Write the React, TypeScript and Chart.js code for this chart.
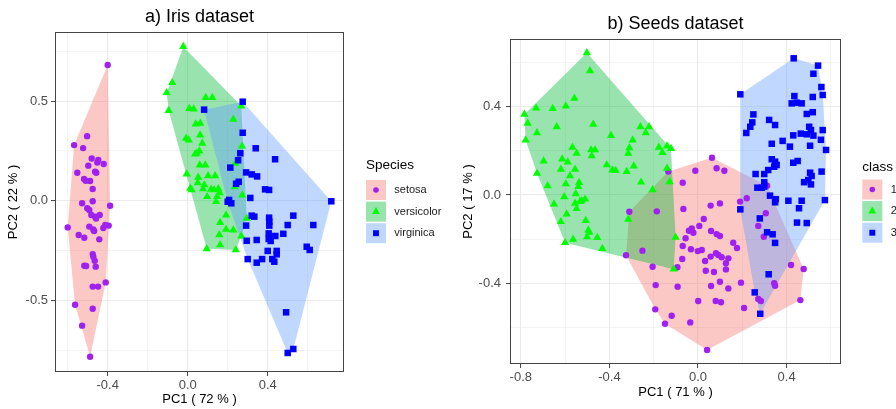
import React, { useEffect, useRef } from 'react';
import { Chart, registerables } from 'chart.js';
Chart.register(...registerables);

type P = [number, number];

// ---------------- Iris data (PC1, PC2) ----------------
const irisSetosa: P[] = [
  [-0.400, 0.681], [-0.503, 0.324], [-0.568, 0.279], [-0.523, 0.264], [-0.480, 0.212], [-0.447, 0.204],
  [-0.452, 0.192], [-0.497, 0.176], [-0.420, 0.184], [-0.552, 0.140], [-0.463, 0.145], [-0.457, 0.140],
  [-0.518, 0.109], [-0.510, 0.100], [-0.488, 0.099], [-0.475, 0.059], [-0.528, -0.013], [-0.475, -0.003],
  [-0.388, -0.025], [-0.502, -0.038], [-0.492, -0.047], [-0.440, -0.072], [-0.463, -0.080], [-0.458, -0.089],
  [-0.482, -0.072], [-0.600, -0.134], [-0.492, -0.130], [-0.472, -0.144], [-0.468, -0.152], [-0.412, -0.122],
  [-0.395, -0.125], [-0.422, -0.137], [-0.545, -0.172], [-0.517, -0.186], [-0.442, -0.194], [-0.475, -0.268],
  [-0.472, -0.281], [-0.465, -0.301], [-0.517, -0.326], [-0.508, -0.328], [-0.460, -0.331], [-0.410, -0.410],
  [-0.475, -0.431], [-0.448, -0.431], [-0.563, -0.522], [-0.475, -0.542], [-0.528, -0.627], [-0.488, -0.783],
];
const irisVersicolor: P[] = [
  [-0.022, 0.773], [-0.077, 0.592], [-0.105, 0.542], [-0.095, 0.452], [0.090, 0.517], [0.123, 0.517],
  [0.008, 0.462], [0.030, 0.460], [0.228, 0.408], [0.040, 0.385], [0.063, 0.388], [-0.008, 0.313],
  [0.005, 0.304], [0.062, 0.329], [0.073, 0.288], [0.268, 0.475], [0.045, 0.237], [0.058, 0.249],
  [0.037, 0.234], [0.060, 0.179], [0.088, 0.179], [0.272, 0.274], [-0.005, 0.134], [0.052, 0.117],
  [0.102, 0.125], [0.137, 0.125], [0.050, 0.090], [0.013, 0.062], [0.020, 0.054], [0.077, 0.060],
  [0.132, 0.054], [0.153, 0.060], [0.235, 0.069], [0.160, 0.040], [0.097, 0.020], [0.147, 0.020],
  [0.142, -0.005], [0.273, 0.028], [0.237, 0.187], [0.192, -0.072], [0.295, -0.089], [0.162, -0.110],
  [0.192, -0.144], [0.228, -0.147], [0.158, -0.171], [0.268, -0.177], [0.095, -0.241], [0.162, -0.222],
  [0.240, -0.247], [0.083, 0.079], [0.117, 0.057],
];
const irisVirginica: P[] = [
  [0.275, 0.497], [0.082, 0.457], [0.275, 0.341], [0.340, 0.263], [0.263, 0.238], [0.252, 0.203],
  [0.437, 0.208], [0.213, 0.166], [0.292, 0.142], [0.320, 0.132], [0.347, 0.122], [0.255, 0.095],
  [0.242, 0.085], [0.387, 0.057], [0.407, 0.054], [0.313, 0.014], [0.718, -0.003], [0.207, 0.004],
  [0.218, -0.013], [0.200, -0.005], [0.320, -0.075], [0.333, -0.080], [0.528, -0.075], [0.407, -0.085],
  [0.408, -0.105], [0.408, -0.125], [0.292, -0.125], [0.500, -0.122], [0.628, -0.122], [0.405, -0.164],
  [0.438, -0.177], [0.478, -0.166], [0.295, -0.201], [0.345, -0.197], [0.405, -0.192], [0.415, -0.202],
  [0.595, -0.231], [0.610, -0.247], [0.400, -0.252], [0.445, -0.252], [0.445, -0.269], [0.300, -0.293],
  [0.345, -0.311], [0.372, -0.293], [0.423, -0.293], [0.433, -0.306], [0.492, -0.560], [0.528, -0.744],
  [0.500, -0.764],
];

// ---------------- Seeds data (PC1, PC2) ----------------
const seedsClass1: P[] = [
  [0.063, 0.169], [0.084, 0.121], [0.119, 0.110], [-0.012, 0.110], [-0.069, 0.056], [-0.134, 0.106],
  [0.220, -0.015], [0.190, -0.030], [0.099, -0.038], [0.057, -0.048], [-0.066, -0.063], [-0.310, -0.076],
  [-0.186, -0.074], [0.306, -0.083], [0.026, -0.109], [0.006, -0.140], [-0.028, -0.151], [-0.041, -0.162],
  [-0.021, -0.171], [0.272, -0.140], [0.059, -0.163], [0.084, -0.177], [0.099, -0.186], [-0.056, -0.196],
  [0.297, -0.189], [0.159, -0.216], [0.176, -0.240], [-0.069, -0.231], [-0.032, -0.246], [-0.001, -0.254],
  [0.017, -0.249], [-0.251, -0.252], [-0.325, -0.273], [0.081, -0.264], [0.092, -0.272], [0.107, -0.282],
  [0.057, -0.279], [0.032, -0.299], [0.137, -0.287], [0.126, -0.309], [-0.071, -0.290], [-0.093, -0.327],
  [-0.205, -0.325], [0.035, -0.343], [0.072, -0.349], [0.126, -0.337], [0.099, -0.393], [0.194, -0.397],
  [0.059, -0.412], [0.137, -0.423], [-0.092, -0.415], [-0.191, -0.408], [0.420, -0.317], [0.477, -0.335],
  [0.344, -0.400], [0.348, -0.411], [0.272, -0.471], [0.284, -0.480], [0.462, -0.476], [0.001, -0.480],
  [0.080, -0.480], [0.104, -0.486], [0.208, -0.512], [-0.193, -0.518], [-0.119, -0.547], [-0.149, -0.583],
  [-0.035, -0.577], [0.041, -0.702], [0.312, 0.042],
];
const seedsClass2: P[] = [
  [-0.502, 0.644], [-0.488, 0.562], [-0.558, 0.438], [-0.597, 0.403], [-0.656, 0.391], [-0.731, 0.393],
  [-0.784, 0.365], [-0.769, 0.325], [-0.727, 0.282], [-0.638, 0.309], [-0.473, 0.320], [-0.778, 0.249],
  [-0.393, 0.269], [-0.260, 0.309], [-0.221, 0.309], [-0.236, 0.282], [-0.295, 0.249], [-0.310, 0.214],
  [-0.315, 0.189], [-0.177, 0.216], [-0.140, 0.222], [-0.122, 0.210], [-0.161, 0.192], [-0.567, 0.216],
  [-0.548, 0.189], [-0.483, 0.204], [-0.465, 0.204], [-0.480, 0.177], [-0.697, 0.154], [-0.613, 0.163],
  [-0.588, 0.149], [-0.412, 0.136], [-0.619, 0.116], [-0.555, 0.116], [-0.387, 0.113], [-0.372, 0.110],
  [-0.322, 0.106], [-0.290, 0.131], [-0.140, 0.121], [-0.727, 0.098], [-0.578, 0.087], [-0.537, 0.056],
  [-0.540, 0.038], [-0.597, 0.050], [-0.679, 0.041], [-0.257, 0.058], [-0.128, 0.060], [-0.205, 0.023],
  [-0.552, 0.005], [-0.604, -0.008], [-0.525, -0.026], [-0.510, -0.019], [-0.533, -0.030], [-0.555, -0.038],
  [-0.650, -0.041], [-0.548, -0.062], [-0.593, -0.086], [-0.315, -0.110], [-0.619, -0.121], [-0.507, -0.116],
  [-0.495, -0.159], [-0.491, -0.169], [-0.501, -0.189], [-0.455, -0.193], [-0.564, -0.201], [-0.600, -0.216],
  [-0.432, -0.243], [-0.101, -0.192], [-0.110, -0.336],
];
const seedsClass3: P[] = [
  [0.432, 0.619], [0.542, 0.586], [0.521, 0.549], [0.191, 0.456], [0.557, 0.489], [0.563, 0.453],
  [0.435, 0.448], [0.518, 0.444], [0.423, 0.415], [0.446, 0.418], [0.468, 0.415], [0.250, 0.365],
  [0.491, 0.367], [0.518, 0.375], [0.245, 0.329], [0.236, 0.309], [0.321, 0.340], [0.348, 0.317],
  [0.218, 0.281], [0.502, 0.309], [0.510, 0.294], [0.563, 0.294], [0.430, 0.270], [0.464, 0.278],
  [0.491, 0.275], [0.521, 0.269], [0.555, 0.250], [0.333, 0.232], [0.382, 0.245], [0.415, 0.219],
  [0.506, 0.223], [0.578, 0.204], [0.333, 0.162], [0.348, 0.151], [0.355, 0.136], [0.344, 0.128],
  [0.430, 0.146], [0.450, 0.154], [0.558, 0.106], [0.317, 0.113], [0.299, 0.095], [0.260, 0.095],
  [0.506, 0.101], [0.513, 0.086], [0.479, 0.058], [0.498, 0.068], [0.510, 0.048], [0.299, 0.058],
  [0.268, 0.033], [0.288, 0.033], [0.299, 0.038], [0.325, -0.003], [0.351, -0.019], [0.348, -0.033],
  [0.408, -0.026], [0.468, -0.026], [0.573, -0.023], [0.191, -0.065], [0.456, -0.060], [0.279, -0.106],
  [0.447, -0.125], [0.491, -0.127], [0.312, -0.169], [0.337, -0.178], [0.348, -0.217], [0.319, -0.359],
  [0.256, -0.441], [0.281, -0.538],
];

// ---------------- Labels & ticks ----------------
const irisGroups = ['setosa', 'versicolor', 'virginica'];
const seedsGroups = ['1', '2', '3'];
const irisXMajor = [-0.4, 0, 0.4];
const irisXMinor = [-0.6, -0.2, 0.2, 0.6];
const irisYMajor = [-0.5, 0, 0.5];
const irisYMinor = [-0.75, -0.25, 0.25, 0.75];
const seedsXMajor = [-0.8, -0.4, 0, 0.4];
const seedsXMinor = [-0.6, -0.2, 0.2, 0.6];
const seedsYMajor = [-0.4, 0, 0.4];
const seedsYMinor = [-0.6, -0.2, 0.2, 0.6];

// ---------------- Styles ----------------
const FONT = '"Liberation Sans", Arial, Helvetica, sans-serif';
const POINT_COLORS = ['#A020F0', '#00FF00', '#0000FF'];
const HULL_COLORS = ['rgba(248,118,109,0.4)', 'rgba(0,186,56,0.4)', 'rgba(97,156,255,0.4)'];
const SHAPES = ['circle', 'triangle', 'rect'];
const RADII = [3.2, 4.8, 4.6];
const W = 448;
const H = 409;

function convexHull(pts: P[]): P[] {
  const p = [...pts].sort((a, b) => a[0] - b[0] || a[1] - b[1]);
  const cross = (o: P, a: P, b: P) => (a[0] - o[0]) * (b[1] - o[1]) - (a[1] - o[1]) * (b[0] - o[0]);
  const lower: P[] = [];
  for (const q of p) {
    while (lower.length >= 2 && cross(lower[lower.length - 2], lower[lower.length - 1], q) <= 0) lower.pop();
    lower.push(q);
  }
  const upper: P[] = [];
  for (let i = p.length - 1; i >= 0; i--) {
    const q = p[i];
    while (upper.length >= 2 && cross(upper[upper.length - 2], upper[upper.length - 1], q) <= 0) upper.pop();
    upper.push(q);
  }
  upper.pop();
  lower.pop();
  return lower.concat(upper);
}

function drawShape(ctx: CanvasRenderingContext2D, shape: string, x: number, y: number, r: number) {
  ctx.beginPath();
  if (shape === 'circle') {
    ctx.arc(x, y, r, 0, Math.PI * 2);
  } else if (shape === 'triangle') {
    ctx.moveTo(x, y - r);
    ctx.lineTo(x + 0.866 * r, y + 0.5 * r);
    ctx.lineTo(x - 0.866 * r, y + 0.5 * r);
    ctx.closePath();
  } else {
    const s = Math.SQRT1_2 * r;
    ctx.rect(x - s, y - s, 2 * s, 2 * s);
  }
  ctx.fill();
}

interface PanelCfg {
  title: string;
  xTitle: string;
  yTitle: string;
  legendTitle: string;
  labels: string[];
  groups: P[][];
  xMin: number; xMax: number; yMin: number; yMax: number;
  xMajor: number[]; xMinor: number[]; yMajor: number[]; yMinor: number[];
  area: { left: number; right: number; top: number; bottom: number };
  titleBase: number;
  xTickPad: number; yTickPad: number; xTitlePad: number; yTitlePad: number;
  legend: { x: number; titleBase: number; rows: number[]; labelX: number };
}

const irisCfg: PanelCfg = {
  title: 'a) Iris dataset', xTitle: 'PC1 ( 72 % )', yTitle: 'PC2 ( 22 % )', legendTitle: 'Species',
  labels: irisGroups, groups: [irisSetosa, irisVersicolor, irisVirginica],
  xMin: -0.6635, xMax: 0.7815, yMin: -0.8595, yMax: 0.8465,
  xMajor: irisXMajor, xMinor: irisXMinor, yMajor: irisYMajor, yMinor: irisYMinor,
  area: { left: 55, right: 344, top: 32, bottom: 372 },
  titleBase: 21.5, xTickPad: 2, yTickPad: 3, xTitlePad: 1.5, yTitlePad: 6,
  legend: { x: 366, titleBase: 169, rows: [180, 201.6, 223.2], labelX: 394.3 },
};

const seedsCfg: PanelCfg = {
  title: 'b) Seeds dataset', xTitle: 'PC1 ( 71 % )', yTitle: 'PC2 ( 17 % )', legendTitle: 'class',
  labels: seedsGroups, groups: [seedsClass1, seedsClass2, seedsClass3],
  xMin: -0.8488, xMax: 0.6456, yMin: -0.7654, yMax: 0.7065,
  xMajor: seedsXMajor, xMinor: seedsXMinor, yMajor: seedsYMajor, yMinor: seedsYMinor,
  area: { left: 62, right: 393, top: 39, bottom: 364 },
  titleBase: 28.5, xTickPad: 1.5, yTickPad: 5, xTitlePad: 8.7, yTitlePad: 13,
  legend: { x: 414.3, titleBase: 170.5, rows: [179.5, 201.1, 222.7], labelX: 442.7 },
};

const hullPlugin = {
  id: 'hulls',
  beforeDatasetsDraw(chart: any) {
    const { ctx, chartArea, scales } = chart;
    ctx.save();
    ctx.beginPath();
    ctx.rect(chartArea.left, chartArea.top, chartArea.right - chartArea.left, chartArea.bottom - chartArea.top);
    ctx.clip();
    chart.data.datasets.forEach((ds: any, i: number) => {
      const pts: P[] = ds.data.map((d: any) => [d.x, d.y]);
      const h = convexHull(pts);
      ctx.beginPath();
      h.forEach(([x, y], k) => {
        const px = scales.x.getPixelForValue(x);
        const py = scales.y.getPixelForValue(y);
        if (k === 0) ctx.moveTo(px, py);
        else ctx.lineTo(px, py);
      });
      ctx.closePath();
      ctx.fillStyle = HULL_COLORS[i];
      ctx.fill();
    });
    ctx.restore();
  },
};

function makeDecor(cfg: PanelCfg) {
  return {
    id: 'decor',
    afterDraw(chart: any) {
      const { ctx, chartArea } = chart;
      ctx.save();
      // panel border
      ctx.strokeStyle = '#444444';
      ctx.lineWidth = 1;
      ctx.strokeRect(chartArea.left + 0.5, chartArea.top + 0.5, chartArea.right - chartArea.left - 1, chartArea.bottom - chartArea.top - 1);
      // title
      ctx.fillStyle = '#000';
      ctx.font = `18px ${FONT}`;
      ctx.textAlign = 'center';
      ctx.textBaseline = 'alphabetic';
      ctx.fillText(cfg.title, (chartArea.left + chartArea.right) / 2, cfg.titleBase);
      // legend
      const L = cfg.legend;
      ctx.textAlign = 'left';
      ctx.font = `13.5px ${FONT}`;
      ctx.fillText(cfg.legendTitle, L.x, L.titleBase);
      const key = 20;
      cfg.labels.forEach((lab, i) => {
        const y = L.rows[i];
        ctx.fillStyle = '#ffffff';
        ctx.fillRect(L.x, y, key, key);
        ctx.fillStyle = HULL_COLORS[i];
        ctx.fillRect(L.x, y, key, key);
        ctx.fillStyle = POINT_COLORS[i];
        drawShape(ctx, SHAPES[i], L.x + key / 2, y + key / 2, i === 0 ? 2.8 : i === 1 ? 4.6 : 4.2);
        ctx.fillStyle = '#1a1a1a';
        ctx.font = `11px ${FONT}`;
        ctx.textBaseline = 'middle';
        ctx.fillText(lab, L.labelX, y + key / 2);
        ctx.textBaseline = 'alphabetic';
      });
      ctx.restore();
    },
  };
}

function axisOpts(cfg: PanelCfg, axis: 'x' | 'y') {
  const major = axis === 'x' ? cfg.xMajor : cfg.yMajor;
  const minor = axis === 'x' ? cfg.xMinor : cfg.yMinor;
  const all = [...major, ...minor].sort((a, b) => a - b);
  const isMajor = (v: number) => major.includes(v);
  return {
    type: 'linear',
    min: axis === 'x' ? cfg.xMin : cfg.yMin,
    max: axis === 'x' ? cfg.xMax : cfg.yMax,
    afterBuildTicks: (s: any) => {
      s.ticks = all.map((v) => ({ value: v }));
    },
    afterFit: (s: any) => {
      if (axis === 'x') s.height = H - cfg.area.bottom;
      else s.width = cfg.area.left;
    },
    border: { display: false },
    grid: {
      color: '#EBEBEB',
      lineWidth: (c: any) => (c.tick && isMajor(c.tick.value) ? 1.1 : 0.6),
      drawTicks: true,
      tickLength: 4,
      tickWidth: 1,
      tickColor: (c: any) => (c.tick && isMajor(c.tick.value) ? '#444444' : 'rgba(0,0,0,0)'),
    },
    ticks: {
      autoSkip: false,
      maxRotation: 0,
      minRotation: 0,
      padding: axis === 'x' ? cfg.xTickPad : cfg.yTickPad,
      color: '#4D4D4D',
      font: { family: FONT, size: 13 },
      callback: (v: number) => (isMajor(v) ? v.toFixed(1) : ''),
    },
    title: {
      display: true,
      text: axis === 'x' ? cfg.xTitle : cfg.yTitle,
      color: '#000',
      font: { family: FONT, size: 13 },
      padding: axis === 'x' ? { top: 0, bottom: cfg.xTitlePad } : { top: cfg.yTitlePad, bottom: 0 },
    },
  };
}

function Panel({ cfg, left }: { cfg: PanelCfg; left: number }) {
  const ref = useRef<HTMLCanvasElement>(null);
  useEffect(() => {
    const a = cfg.area;
    const chart = new Chart(ref.current as HTMLCanvasElement, {
      type: 'scatter',
      data: {
        datasets: cfg.groups.map((g, i) => ({
          label: cfg.labels[i],
          data: g.map(([x, y]) => ({ x, y })),
          pointStyle: SHAPES[i],
          pointRadius: RADII[i],
          pointHoverRadius: RADII[i],
          pointBackgroundColor: POINT_COLORS[i],
          pointBorderWidth: 0,
          order: cfg.groups.length - i,
        })),
      },
      options: {
        responsive: false,
        animation: false,
        events: [],
        devicePixelRatio: 1,
        layout: { padding: { left: 0, top: a.top, right: W - a.right, bottom: 0 } },
        plugins: {
          legend: { display: false },
          tooltip: { enabled: false },
          title: { display: false },
        },
        scales: {
          x: axisOpts(cfg, 'x'),
          y: axisOpts(cfg, 'y'),
        },
      } as any,
      plugins: [hullPlugin, makeDecor(cfg)],
    } as any);
    return () => chart.destroy();
  }, [cfg]);
  return (
    <canvas
      ref={ref}
      width={W}
      height={H}
      style={{ position: 'absolute', left, top: 0, width: W, height: H }}
    />
  );
}

export default function App() {
  return (
    <div style={{ position: 'fixed', left: 0, top: 0, width: 896, height: 409, background: '#ffffff', overflow: 'hidden' }}>
      <Panel cfg={irisCfg} left={0} />
      <Panel cfg={seedsCfg} left={448} />
    </div>
  );
}
